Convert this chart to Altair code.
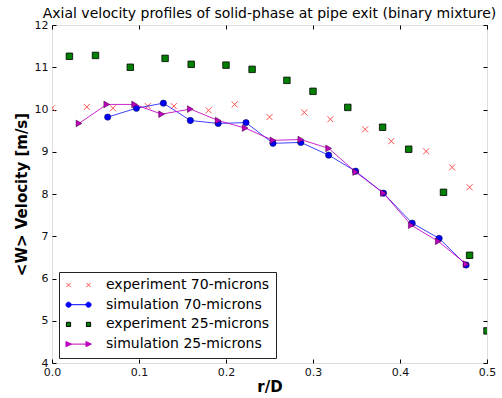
import altair as alt
import pandas as pd

# ---------------- data ----------------
exp70_r = [0.0, 0.04, 0.07, 0.11, 0.14, 0.18, 0.21, 0.25, 0.29, 0.32, 0.36, 0.39, 0.43, 0.46, 0.48]
exp70_v = [10.03, 10.06, 10.03, 10.08, 10.08, 9.98, 10.12, 9.82, 9.93, 9.77, 9.53, 9.25, 9.01, 8.63, 8.16]

sim70_r = [0.064, 0.097, 0.128, 0.159, 0.191, 0.223, 0.254, 0.286, 0.318, 0.349, 0.381, 0.414, 0.445, 0.476]
sim70_v = [9.82, 10.03, 10.15, 9.74, 9.67, 9.69, 9.20, 9.22, 8.92, 8.54, 8.02, 7.31, 6.95, 6.32]

exp25_r = [0.02, 0.05, 0.09, 0.13, 0.16, 0.20, 0.23, 0.27, 0.30, 0.34, 0.38, 0.41, 0.45, 0.48, 0.50]
exp25_v = [11.26, 11.28, 11.00, 11.21, 11.07, 11.05, 10.95, 10.69, 10.43, 10.05, 9.58, 9.06, 8.04, 6.55, 4.76]

sim25_r = [0.031, 0.063, 0.095, 0.126, 0.159, 0.191, 0.222, 0.254, 0.286, 0.318, 0.349, 0.381, 0.413, 0.444, 0.476]
sim25_v = [9.67, 10.12, 10.12, 9.89, 10.01, 9.74, 9.56, 9.27, 9.29, 9.08, 8.52, 8.02, 7.26, 6.88, 6.34]

series_names = ["experiment 70-microns", "simulation 70-microns",
                "experiment 25-microns", "simulation 25-microns"]

x_ticks = [0.0, 0.1, 0.2, 0.3, 0.4, 0.5]
y_ticks = [4, 5, 6, 7, 8, 9, 10, 11, 12]

title_text = "Axial velocity profiles of solid-phase at pipe exit (binary mixture)"
x_title = "r/D"
y_title = "<W> Velocity [m/s]"

# ---------------- styling ----------------
FONT = "DejaVu Sans"
RED = "#ff5050"
BLUE = "#0000ff"
GREEN = "#008000"
MAG = "#bf00bf"

X_PATH = "M-1,-1L1,1M-1,1L1,-1"


# legend symbols: two markers (with a joining line for simulations)
def circle(cx, r=0.85):
    return f"M{cx - r:.2f},0A{r},{r},0,1,0,{cx + r:.2f},0A{r},{r},0,1,0,{cx - r:.2f},0Z"


def cross(cx, h=0.7):
    return f"M{cx - h:.2f},{-h}L{cx + h:.2f},{h}M{cx - h:.2f},{h}L{cx + h:.2f},{-h}"


def square(cx, h=0.7):
    return f"M{cx - h:.2f},{-h}H{cx + h:.2f}V{h}H{cx - h:.2f}Z"


def tri(cx, h=0.85):
    return f"M{cx - h:.2f},{-h}L{cx + h * 1.1:.2f},0L{cx - h:.2f},{h}Z"


a, b = -1.16, 5.51
leg_paths = [
    cross(a) + cross(b),
    f"M{a},0L{b},0" + circle(a) + circle(b),
    square(a) + square(b),
    f"M{a},0L{b},0" + tri(a) + tri(b),
]
leg_fill = [RED, BLUE, GREEN, MAG]
leg_stroke = [RED, BLUE, "#000000", MAG]


def frame(r, v, name):
    return pd.DataFrame({"r": r, "v": v, "series": name})


d_exp70 = frame(exp70_r, exp70_v, series_names[0])
d_sim70 = frame(sim70_r, sim70_v, series_names[1])
d_exp25 = frame(exp25_r, exp25_v, series_names[2])
d_sim25 = frame(sim25_r, sim25_v, series_names[3])
d_all = pd.concat([d_exp70, d_sim70, d_exp25, d_sim25], ignore_index=True)

xscale = alt.Scale(domain=[0, 0.5], nice=False, zero=False)
yscale = alt.Scale(domain=[4, 12], nice=False, zero=False)

common_axis = dict(
    tickSize=4, offset=-4, domain=False, grid=False,
    tickColor="#000000", tickWidth=1,
    labelFont=FONT, labelFontSize=11, labelColor="#111111",
    labelFlush=False, labelOverlap=False, labelBound=False,
)

x_axis_bottom = alt.Axis(
    orient="bottom", values=x_ticks, format=".1f", title=x_title,
    titleFont=FONT, titleFontSize=15, titleFontWeight="bold", titleColor="#000000",
    titleY=27, titleBaseline="middle", labelPadding=3, **common_axis)
y_axis_left = alt.Axis(
    orient="left", values=y_ticks, format="d", title=y_title,
    titleFont=FONT, titleFontSize=15, titleFontWeight="bold", titleColor="#000000",
    titleX=-35, titleY=169, titleAngle=-90, titleBaseline="middle", titleAlign="center",
    labelPadding=4, **common_axis)
x_axis_top = alt.Axis(orient="top", values=x_ticks, labels=False, title=None,
                      tickSize=4, offset=-4, domain=False, grid=False,
                      tickColor="#000000", tickWidth=1)
y_axis_right = alt.Axis(orient="right", values=y_ticks, labels=False, title=None,
                        tickSize=4, offset=-4, domain=False, grid=False,
                        tickColor="#000000", tickWidth=1)


def xy(axis_x=None, axis_y=None):
    return dict(
        x=alt.X("r:Q", scale=xscale, axis=axis_x),
        y=alt.Y("v:Q", scale=yscale, axis=axis_y),
    )


l_exp70 = alt.Chart(d_exp70).mark_point(
    shape=X_PATH, size=36, filled=False, stroke=RED, strokeWidth=1, opacity=1, clip=True
).encode(**xy(x_axis_bottom, y_axis_left))

l_sim70_line = alt.Chart(d_sim70).mark_line(
    color=BLUE, strokeWidth=1, opacity=0.75, clip=True
).encode(**xy())
l_sim70_pts = alt.Chart(d_sim70).mark_point(
    shape="circle", size=40, filled=True, fill=BLUE, stroke="#000033",
    strokeWidth=0.5, opacity=1, clip=True
).encode(**xy())

l_exp25 = alt.Chart(d_exp25).mark_point(
    shape="square", size=42, filled=True, fill=GREEN, stroke="#000000",
    strokeWidth=0.8, opacity=1, clip=True
).encode(**xy())

l_sim25_line = alt.Chart(d_sim25).mark_line(
    color=MAG, strokeWidth=1, opacity=0.85, clip=True
).encode(**xy())
l_sim25_pts = alt.Chart(d_sim25).mark_point(
    shape="triangle-right", size=45, filled=True, fill=MAG, stroke="#330033",
    strokeWidth=0.5, opacity=1, clip=True
).encode(**xy())

legend = alt.Legend(
    title=None, orient="none", legendX=7, legendY=247,
    padding=6, rowPadding=5.7, labelOffset=27,
    labelFont=FONT, labelFontSize=14, labelColor="#000000", labelLimit=400,
    symbolSize=36, symbolStrokeWidth=1, symbolOpacity=1,
    strokeColor="#222222", fillColor="#ffffff", cornerRadius=0,
)

l_legend = alt.Chart(d_all).mark_point(filled=True, opacity=1, clip=True).encode(
    **xy(x_axis_top, y_axis_right),
    shape=alt.Shape("series:N", scale=alt.Scale(domain=series_names, range=leg_paths), legend=legend),
    fill=alt.Fill("series:N", scale=alt.Scale(domain=series_names, range=leg_fill), legend=legend),
    stroke=alt.Stroke("series:N", scale=alt.Scale(domain=series_names, range=leg_stroke), legend=legend),
).transform_filter("false")

chart = alt.layer(
    l_exp70, l_sim70_line, l_sim70_pts, l_exp25, l_sim25_line, l_sim25_pts, l_legend
).resolve_axis(
    x="independent", y="independent"
).properties(
    width=435, height=338,
    title=alt.TitleParams(title_text, font=FONT, fontSize=14, fontWeight="normal",
                          color="#000000", offset=4, baseline="bottom", dy=20,
                          anchor="middle", frame="group"),
    autosize=alt.AutoSizeParams(type="none"),
    padding={"left": 52, "top": 25, "right": 15, "bottom": 35},
).configure_view(
    stroke="#000000", strokeWidth=1
).configure(
    font=FONT, background="#ffffff"
)

chart.save("out.html", embed_options={"renderer": "svg", "actions": False})
